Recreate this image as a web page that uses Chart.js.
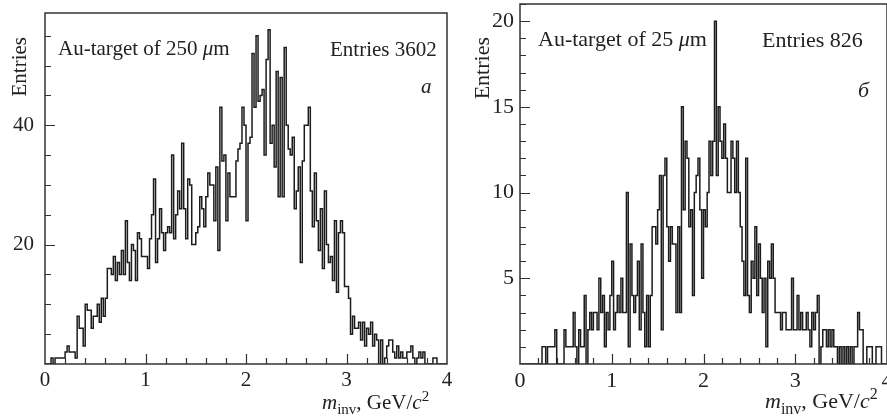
<!DOCTYPE html>
<html>
<head>
<meta charset="utf-8">
<script src="https://cdn.jsdelivr.net/npm/chart.js@4.4.1/dist/chart.umd.min.js"></script>
<style>
  html, body { margin: 0; padding: 0; background: #fff; width: 887px; height: 418px; overflow: hidden; }
  .panel { position: absolute; top: 0; height: 418px; }
  #panelA { left: 0;     width: 462px; }
  #panelB { left: 462px; width: 440px; }
</style>
</head>
<body>
<div class="panel" id="panelA"><canvas id="chartA"></canvas></div>
<div class="panel" id="panelB"><canvas id="chartB"></canvas></div>
<script>
'use strict';

/* ── binning, same for both targets ── */
const binLow   = 0;
const binHigh  = 4;

/* ── Au-target of 250 um, 200 bins of 0.02 GeV/c^2 ── */
const countsThick = [
    0, 0, 0, 0, 1, 0, 1, 1, 1, 1,   1, 2, 3, 2, 2, 2, 1, 8, 6, 6,
    3,10, 9, 9, 6, 8, 8,10, 7,11,   8,11,16,16,15,18,14,17,15,19,
   15,24,17,14,20,19,14,22,21,18,  18,18,16,21,25,31,17,21,26,22,
   19,22,23,22,35,21,25,29,26,37,  26,21,31,30,20,20,22,23,28,26,
   23,28,32,30,30,24,33,19,43,34,  35,24,32,28,28,28,34,36,37,43,
   40,24,37,38,52,43,55,44,45,46,  35,51,56,37,40,33,49,28,48,28,
   53,40,36,35,38,26,29,33,17,34,  40,40,43,29,23,32,24,19,26,16,
   29,20,17,18,14,24,12,22,24,22,  13,13,11, 5, 8, 6, 6, 7, 4, 7,
    3, 6, 5, 7, 3, 5, 4, 0, 4, 0,   1, 3, 4, 4, 2, 1, 3, 1, 2, 1,
    1, 2, 2, 3, 1, 0, 1, 2, 1, 2,   0, 0, 0, 0, 1, 1, 0, 0, 0, 0
];

/* ── Au-target of 25 um, 200 bins of 0.02 GeV/c^2 ── */
const countsThin = [
    0, 0, 0, 0, 0, 0, 0, 0, 0, 0,   0, 0, 0, 1, 1, 0, 1, 1, 1, 1,
    2, 0, 0, 0, 0, 2, 1, 1, 1, 1,   3, 1, 0, 2, 1, 1, 4, 0, 2, 3,
    2, 3, 3, 2, 5, 3, 4, 1, 3, 2,   4, 6, 2, 3, 4, 3, 5, 3, 3,10,
    1, 7, 4, 3, 4, 6, 2, 7, 3, 1,   4, 1, 4, 8, 8, 7, 9,11, 2,11,
   12, 8, 6, 8, 7, 7, 3, 8, 3,15,   9,13,12, 8, 9, 4,10,11,12, 9,
    5, 9, 8,10,13,11,13,20,11,15,  13,12,14,12,10,10,13,12,10,13,
   10, 8, 6, 4,12, 4, 3, 6, 5, 8,   4, 7, 5, 3, 5, 1, 6, 5, 7, 5,
    3, 3, 3, 2, 3, 3, 2, 2, 2, 5,   2, 2, 4, 2, 3, 2, 2, 3, 2, 1,
    3, 2, 3, 4, 0, 1, 2, 2, 1, 2,   1, 2, 1, 1, 0, 1, 0, 1, 0, 1,
    0, 1, 0, 1, 1, 3, 2, 2, 0, 0,   1, 1, 1, 0, 0, 1, 1, 1, 0, 0
];

const xTickValues   = [0, 1, 2, 3, 4];
const yLabelsThick  = [20, 40];
const yLabelsThin   = [5, 10, 15, 20];

const FONT = '"Liberation Serif", "Times New Roman", serif';
const INK  = '#222';

/* ── bin edges -> step outline points ── */
function histPoints(counts) {
    const w   = (binHigh - binLow) / counts.length;
    const pts = counts.map((c, i) => ({ x: binLow + i * w, y: c }));
    pts.push({ x: binHigh, y: counts[counts.length - 1] });
    return pts;
}

function drawRich(ctx, x, y, parts, base) {
    let cx = x;
    parts.forEach(p => {
        const size = Math.round(base * (p.scale || 1));
        ctx.font = `${p.italic ? 'italic ' : ''}${size}px ${FONT}`;
        ctx.fillText(p.t, cx, y + (p.dy || 0) * base / 20);
        cx += ctx.measureText(p.t).width;
    });
}

/* ── frame, inward ticks, captions (ROOT look) ── */
const framePlugin = {
    id: 'frameDeco',
    afterDraw(chart, args, o) {
        const { ctx, chartArea: a, scales: { x, y } } = chart;
        ctx.save();
        ctx.strokeStyle = '#333';
        ctx.lineWidth   = 1.5;
        ctx.strokeRect(a.left, a.top, a.right - a.left, a.bottom - a.top);

        ctx.lineWidth = 1.2;
        ctx.beginPath();
        const nx = Math.round((binHigh - binLow) / o.xMinor);
        for (let k = 1; k < nx; k++) {
            const v   = binLow + k * o.xMinor;
            const px  = Math.round(x.getPixelForValue(v)) + 0.5;
            const len = Math.abs(v - Math.round(v)) < 1e-6 ? 10 : 6;
            ctx.moveTo(px, a.bottom); ctx.lineTo(px, a.bottom - len);
        }
        const ny = Math.floor(y.max / o.yMinor);
        for (let k = 1; k <= ny; k++) {
            const v   = k * o.yMinor;
            const py  = Math.round(y.getPixelForValue(v)) + 0.5;
            const len = v % o.yMajor === 0 ? 10 : 6;
            ctx.moveTo(a.left, py); ctx.lineTo(a.left + len, py);
        }
        ctx.stroke();

        ctx.fillStyle = INK;
        ctx.textBaseline = 'alphabetic';
        ctx.textAlign = 'left';
        o.texts.forEach(t => drawRich(ctx, t.x - o.offsetX, t.y, t.parts, o.font));

        // y title, rotated, top-aligned
        ctx.translate(o.yTitle.x - o.offsetX, o.yTitle.y);
        ctx.rotate(-Math.PI / 2);
        ctx.font = `${o.font}px ${FONT}`;
        ctx.textAlign = 'right';
        ctx.textBaseline = 'middle';
        ctx.fillText('Entries', 0, 0);
        ctx.restore();
    }
};

function xTitle(x0, base) {
    return { x: x0, y: base, parts: [
        { t: 'm', italic: true },
        { t: 'inv', scale: 0.72, dy: 5 },
        { t: ', GeV/' },
        { t: 'c', italic: true },
        { t: '2', scale: 0.72, dy: -8 }
    ] };
}

function makePanel(id, counts, cfg) {
    return new Chart(document.getElementById(id), {
        type: 'line',
        data: {
            datasets: [{
                data: histPoints(counts),
                stepped: 'after',
                borderColor: '#1c1c1c',
                borderWidth: 1.5,
                pointRadius: 0,
                fill: false
            }]
        },
        options: {
            responsive: true, maintainAspectRatio: false,
            animation: false,
            layout: { padding: { top: cfg.top, right: cfg.right, bottom: 0, left: 0 } },
            plugins: {
                legend: { display: false },
                tooltip: { enabled: false },
                frameDeco: cfg.deco
            },
            scales: {
                x: {
                    type: 'linear', min: binLow, max: binHigh,
                    grid: { display: false, drawTicks: false }, border: { display: false },
                    afterBuildTicks: s => { s.ticks = xTickValues.map(v => ({ value: v })); },
                    afterFit: s => { s.height = 418 - cfg.bottom; s.paddingLeft = 0; s.paddingRight = 0; },
                    ticks: { padding: 4, color: INK, font: { family: FONT, size: cfg.deco.font }, maxRotation: 0 }
                },
                y: {
                    min: 0, max: cfg.yMax,
                    grid: { display: false, drawTicks: false }, border: { display: false },
                    afterBuildTicks: s => { s.ticks = cfg.yLabels.map(v => ({ value: v })); },
                    afterFit: s => { s.width = cfg.left; s.paddingTop = 0; s.paddingBottom = 0; },
                    ticks: { padding: cfg.yPad, color: INK, font: { family: FONT, size: cfg.deco.font } }
                }
            }
        },
        plugins: [framePlugin]
    });
}

makePanel('chartA', countsThick, {
    top: 13, right: 15, bottom: 364, left: 45, yMax: 58.8, yLabels: yLabelsThick, yPad: 11,
    deco: {
        offsetX: 0, font: 21, xMinor: 0.2, yMinor: 5, yMajor: 20,
        yTitle: { x: 20, y: 37 },
        texts: [
            { x: 58,  y: 55, parts: [{ t: 'Au-target of 250 ' }, { t: 'μ', italic: true }, { t: 'm' }] },
            { x: 330, y: 56, parts: [{ t: 'Entries 3602' }] },
            { x: 421, y: 93, parts: [{ t: 'a', italic: true }] },
            xTitle(322, 409)
        ]
    }
});

makePanel('chartB', countsThin, {
    top: 4, right: 15, bottom: 364, left: 58, yMax: 21, yLabels: yLabelsThin, yPad: 6,
    deco: {
        offsetX: 462, font: 22, xMinor: 0.2, yMinor: 1, yMajor: 5,
        yTitle: { x: 483, y: 37 },
        texts: [
            { x: 538, y: 46, parts: [{ t: 'Au-target of 25 ' }, { t: 'μ', italic: true }, { t: 'm' }] },
            { x: 762, y: 47, parts: [{ t: 'Entries 826' }] },
            { x: 858, y: 97, parts: [{ t: 'б', italic: true }] },
            xTitle(765, 408)
        ]
    }
});
</script>
</body>
</html>
